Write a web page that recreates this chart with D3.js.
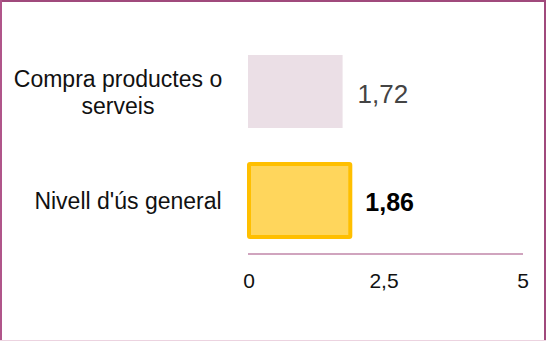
<!DOCTYPE html>
<html><head><meta charset="utf-8">
<script src="https://cdn.jsdelivr.net/npm/d3@7"></script>
<style>
html,body{margin:0;padding:0;background:#fff;}
svg{display:block;font-family:"Liberation Sans",Arial,sans-serif;}
</style></head><body>
<svg id="c" width="546" height="341"></svg>
<script>
const categories = ["Compra productes o serveis", "Nivell d'ús general"];
const categoryLines = [["Compra productes o", "serveis"], ["Nivell d'ús general"]];
const values = [1.72, 1.86];
const valueLabels = ["1,72", "1,86"];
const tickValues = [0, 2.5, 5];
const tickLabels = ["0", "2,5", "5"];

const svg = d3.select("#c");
const W = 546, H = 341;

// frame
svg.append("rect").attr("x",0).attr("y",0).attr("width",W).attr("height",H).attr("fill","#fff");
svg.append("line").attr("x1",0).attr("x2",W).attr("y1",1).attr("y2",1).attr("stroke","#a04a7c").attr("stroke-width",2);
svg.append("line").attr("x1",1).attr("x2",1).attr("y1",0).attr("y2",H).attr("stroke","#b0558a").attr("stroke-width",2);
svg.append("line").attr("x1",W-1).attr("x2",W-1).attr("y1",0).attr("y2",H).attr("stroke","#a04a7c").attr("stroke-width",2);
svg.append("line").attr("x1",0).attr("x2",W).attr("y1",H-0.5).attr("y2",H-0.5).attr("stroke","#ecd3e0").attr("stroke-width",1);

const x = d3.scaleLinear().domain([0,5]).range([248,523]);
const y = d3.scaleBand().domain(categories).range([37,255]).paddingInner(0.33).paddingOuter(0.165);

// axis line
svg.append("line").attr("x1",x(0)).attr("x2",x(5)).attr("y1",254).attr("y2",254)
  .attr("stroke","#d0a4be").attr("stroke-width",2);

// tick labels
svg.selectAll("text.tick").data(tickValues).join("text").attr("class","tick")
  .attr("x",d=>x(d)+(d===2.5?-1.5:(d===0?1:0))).attr("y",288).attr("text-anchor","middle")
  .attr("font-size",21).attr("fill","#111").text((d,i)=>tickLabels[i]);

// bars
svg.append("rect").attr("x",x(0)).attr("y",y(categories[0]))
  .attr("width",x(values[0])-x(0)).attr("height",y.bandwidth()).attr("fill","#ebdfe6");
svg.append("rect").attr("x",x(0)+1).attr("y",y(categories[1]))
  .attr("width",x(values[1])-x(0)-1).attr("height",y.bandwidth())
  .attr("fill","#ffd65c").attr("stroke","#ffbf00").attr("stroke-width",4).attr("rx",1);

// value labels
svg.append("text").attr("x",x(values[0])+15).attr("y",y(categories[0])+y.bandwidth()/2+11)
  .attr("font-size",26).attr("fill","#444").text(valueLabels[0]);
svg.append("text").attr("x",x(values[1])+15).attr("y",y(categories[1])+y.bandwidth()/2+10.5)
  .attr("font-size",25).attr("font-weight","bold").attr("fill","#000").text(valueLabels[1]);

// category labels
categories.forEach((c,i)=>{
  const lines = categoryLines[i];
  const cy = y(c)+y.bandwidth()/2;
  const lh = 27;
  const t = svg.append("text").attr("text-anchor","middle").attr("font-size",23).attr("fill","#111");
  lines.forEach((l,j)=>{
    t.append("tspan").attr("x", i===0?118:128)
      .attr("y", cy + 8.5 + (j-(lines.length-1)/2)*lh).text(l);
  });
});
</script></body></html>
